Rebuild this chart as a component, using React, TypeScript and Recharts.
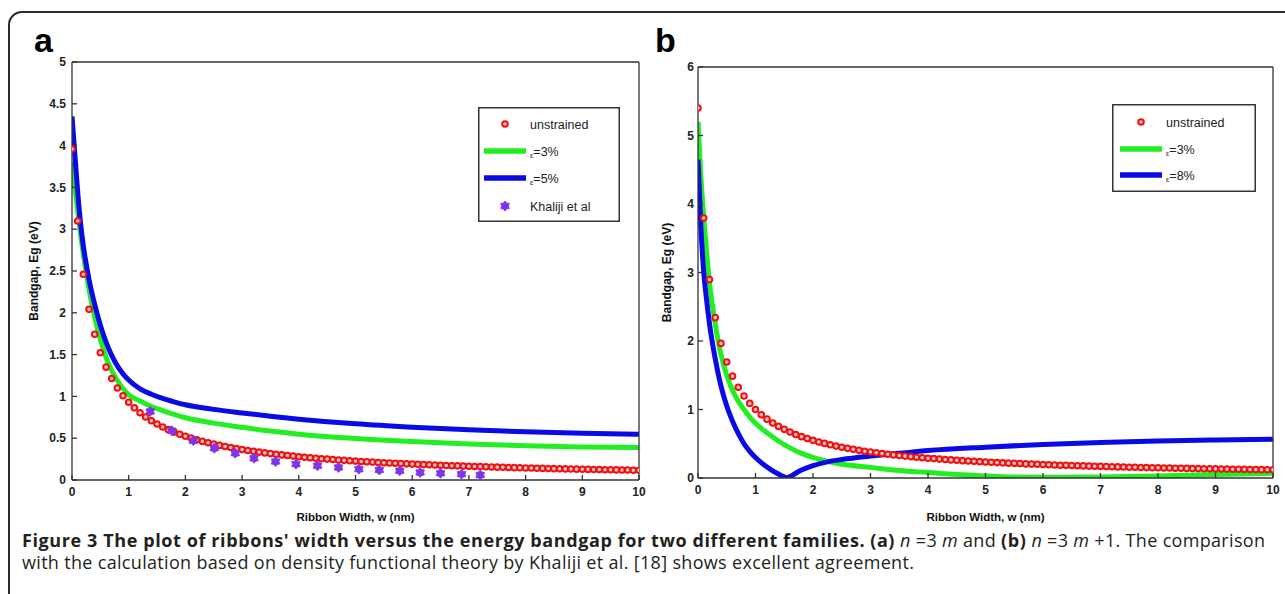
import React from 'react';
import { ComposedChart, Line, Scatter, XAxis, YAxis, Legend, Label } from 'recharts';

// ---------- shared ticks ----------
const X_TICKS = [0, 1, 2, 3, 4, 5, 6, 7, 8, 9, 10];
const Y_TICKS_A = [0, 0.5, 1, 1.5, 2, 2.5, 3, 3.5, 4, 4.5, 5];
const Y_TICKS_B = [0, 1, 2, 3, 4, 5, 6];

// ribbon widths (nm) at which the unstrained points are plotted
const W_GRID = [
  0, 0.1, 0.2, 0.3, 0.4, 0.5, 0.6, 0.7, 0.8, 0.9,
  1, 1.1, 1.2, 1.3, 1.4, 1.5, 1.6, 1.7, 1.8, 1.9,
  2, 2.1, 2.2, 2.3, 2.4, 2.5, 2.6, 2.7, 2.8, 2.9,
  3, 3.1, 3.2, 3.3, 3.4, 3.5, 3.6, 3.7, 3.8, 3.9,
  4, 4.1, 4.2, 4.3, 4.4, 4.5, 4.6, 4.7, 4.8, 4.9,
  5, 5.1, 5.2, 5.3, 5.4, 5.5, 5.6, 5.7, 5.8, 5.9,
  6, 6.1, 6.2, 6.3, 6.4, 6.5, 6.6, 6.7, 6.8, 6.9,
  7, 7.1, 7.2, 7.3, 7.4, 7.5, 7.6, 7.7, 7.8, 7.9,
  8, 8.1, 8.2, 8.3, 8.4, 8.5, 8.6, 8.7, 8.8, 8.9,
  9, 9.1, 9.2, 9.3, 9.4, 9.5, 9.6, 9.7, 9.8, 9.9,
  10,
];

// ---------- panel a (n = 3m) ----------
const A_UNSTRAINED = [
  3.96, 3.098, 2.461, 2.041, 1.743, 1.522, 1.35, 1.213, 1.101, 1.008,
  0.93, 0.863, 0.805, 0.754, 0.709, 0.67, 0.634, 0.602, 0.573, 0.547,
  0.523, 0.501, 0.481, 0.462, 0.445, 0.429, 0.414, 0.401, 0.388, 0.375,
  0.364, 0.353, 0.343, 0.334, 0.324, 0.316, 0.308, 0.3, 0.293, 0.286,
  0.279, 0.273, 0.267, 0.261, 0.255, 0.25, 0.245, 0.24, 0.235, 0.231,
  0.226, 0.222, 0.218, 0.214, 0.21, 0.207, 0.203, 0.2, 0.197, 0.193,
  0.19, 0.187, 0.184, 0.182, 0.179, 0.176, 0.174, 0.171, 0.169, 0.166,
  0.164, 0.162, 0.16, 0.158, 0.156, 0.154, 0.152, 0.15, 0.148, 0.146,
  0.144, 0.143, 0.141, 0.139, 0.138, 0.136, 0.135, 0.133, 0.132, 0.13,
  0.129, 0.127, 0.126, 0.125, 0.123, 0.122, 0.121, 0.12, 0.119, 0.117,
  0.116,
];

const A_CURVE_W = [0, 0.05, 0.1, 0.15, 0.2, 0.3, 0.4, 0.5, 0.6, 0.7, 0.8, 0.9, 1.0, 1.2, 1.4, 1.6, 1.8, 2.0, 2.5, 3, 3.5, 4, 5, 6, 7, 8, 9, 10];
const A_STRAIN3 = [3.8, 3.5, 3.22, 2.95, 2.7, 2.28, 1.95, 1.68, 1.47, 1.31, 1.19, 1.095, 1.02, 0.945, 0.88, 0.83, 0.785, 0.745, 0.68, 0.63, 0.585, 0.548, 0.497, 0.46, 0.432, 0.41, 0.396, 0.387];
const A_STRAIN5 = [4.35, 3.9, 3.45, 3.08, 2.8, 2.4, 2.1, 1.85, 1.65, 1.49, 1.365, 1.27, 1.195, 1.09, 1.025, 0.975, 0.935, 0.9, 0.845, 0.802, 0.762, 0.728, 0.672, 0.632, 0.601, 0.577, 0.56, 0.547];

const KHALIJI_W = [1.38, 1.76, 2.14, 2.51, 2.88, 3.21, 3.59, 3.95, 4.33, 4.7, 5.06, 5.42, 5.78, 6.14, 6.5, 6.87, 7.2];
const KHALIJI_E = [0.82, 0.59, 0.47, 0.38, 0.32, 0.26, 0.22, 0.19, 0.17, 0.15, 0.13, 0.12, 0.11, 0.09, 0.08, 0.07, 0.06];

// ---------- panel b (n = 3m + 1) ----------
const B_UNSTRAINED = [
  5.4, 3.795, 2.896, 2.341, 1.965, 1.693, 1.487, 1.325, 1.196, 1.089,
  1.0, 0.924, 0.859, 0.803, 0.753, 0.71, 0.671, 0.636, 0.604, 0.576,
  0.55, 0.526, 0.505, 0.485, 0.466, 0.449, 0.433, 0.418, 0.404, 0.391,
  0.379, 0.368, 0.357, 0.347, 0.337, 0.328, 0.32, 0.312, 0.304, 0.296,
  0.289, 0.283, 0.276, 0.27, 0.264, 0.259, 0.253, 0.248, 0.243, 0.239,
  0.234, 0.23, 0.225, 0.221, 0.217, 0.214, 0.21, 0.206, 0.203, 0.2,
  0.196, 0.193, 0.19, 0.187, 0.185, 0.182, 0.179, 0.177, 0.174, 0.172,
  0.169, 0.167, 0.165, 0.162, 0.16, 0.158, 0.156, 0.154, 0.152, 0.15,
  0.149, 0.147, 0.145, 0.143, 0.142, 0.14, 0.139, 0.137, 0.135, 0.134,
  0.133, 0.131, 0.13, 0.128, 0.127, 0.126, 0.124, 0.123, 0.122, 0.121,
  0.12,
];

const B_STRAIN3_W = [0, 0.05, 0.1, 0.15, 0.2, 0.3, 0.4, 0.5, 0.6, 0.7, 0.8, 0.9, 1.0, 1.2, 1.4, 1.6, 1.8, 2.0, 2.5, 3, 3.5, 4, 4.5, 5, 5.5, 6, 7, 8, 9, 10];
const B_STRAIN3 = [5.2, 4.4, 3.8, 3.3, 2.85, 2.25, 1.8, 1.5, 1.28, 1.12, 1.0, 0.89, 0.8, 0.66, 0.54, 0.44, 0.36, 0.3, 0.2, 0.155, 0.11, 0.08, 0.05, 0.03, 0.015, 0.01, 0.015, 0.03, 0.05, 0.07];

const B_STRAIN8_W = [0, 0.05, 0.1, 0.15, 0.2, 0.3, 0.4, 0.5, 0.6, 0.7, 0.8, 0.9, 1.0, 1.1, 1.2, 1.3, 1.4, 1.5, 1.55, 1.6, 1.7, 1.8, 2.0, 2.25, 2.5, 3, 3.5, 4, 5, 6, 7, 8, 9, 10];
const B_STRAIN8 = [4.65, 3.67, 3.0, 2.6, 2.25, 1.74, 1.34, 1.05, 0.83, 0.65, 0.5, 0.39, 0.3, 0.225, 0.16, 0.105, 0.058, 0.018, 0.005, 0.02, 0.07, 0.115, 0.18, 0.235, 0.27, 0.32, 0.36, 0.4, 0.45, 0.49, 0.52, 0.54, 0.555, 0.565];

// ---------- helpers ----------
const pts = (ws: number[], es: number[]) => ws.map((w, i) => ({ w, e: es[i] }));

const RED = '#ee1111';
const GREEN = '#22ee22';
const BLUE = '#0a0ae6';
const PURPLE = '#8034e8';
const AXIS = '#333';
const NARROW = "'Liberation Sans Narrow', 'Arial Narrow', 'Liberation Sans', Arial, sans-serif";
const SANS = "'Liberation Sans', Arial, Helvetica, sans-serif";

const tickStyle = { fontSize: 12, fontWeight: 700, fontFamily: NARROW, fill: '#222' };

const RedCircle = (p: any) =>
  p.cx == null ? <g /> : <circle cx={p.cx} cy={p.cy} r={2.8} fill="#ffc4c4" stroke={RED} strokeWidth={2} />;

const hexagram = (cx: number, cy: number, ro: number, ri: number) => {
  const out: string[] = [];
  for (let k = 0; k < 12; k++) {
    const a = (Math.PI / 6) * k - Math.PI / 2;
    const r = k % 2 === 0 ? ro : ri;
    out.push(`${cx + r * Math.cos(a)},${cy + r * Math.sin(a)}`);
  }
  return out.join(' ');
};

const PurpleStar = (p: any) =>
  p.cx == null ? <g /> : <polygon points={hexagram(p.cx, p.cy, 5, 3.4)} fill={PURPLE} stroke={PURPLE} strokeWidth={0.8} />;

type LegendItem = { kind: string; color?: string; label: string; eps?: boolean; y: number };

const LegendBox = ({ w, h, rows, markX, lineX1, lineX2, textX }: any) => (
  <svg width={w} height={h} style={{ display: 'block' }}>
    <rect x={0.75} y={0.75} width={w - 1.5} height={h - 1.5} fill="#fff" stroke={AXIS} strokeWidth={1.5} />
    {rows.map((r: LegendItem, i: number) => (
      <g key={i}>
        {r.kind === 'circle' && <circle cx={markX} cy={r.y} r={2.8} fill="#ffc4c4" stroke={RED} strokeWidth={2} />}
        {r.kind === 'star' && <polygon points={hexagram(markX, r.y, 5, 3.4)} fill={PURPLE} stroke={PURPLE} strokeWidth={0.8} />}
        {r.kind === 'line' && <line x1={lineX1} x2={lineX2} y1={r.y} y2={r.y} stroke={r.color} strokeWidth={5.5} />}
        <text x={textX} y={r.y + 4.5} fontSize={12.5} fontFamily={SANS} fill="#222">
          {r.eps ? (
            <>
              <tspan fontSize={7.5} dy={2}>ε</tspan>
              <tspan dy={-2}>{r.label}</tspan>
            </>
          ) : (
            r.label
          )}
        </text>
      </g>
    ))}
  </svg>
);

const YLabel = (offX: number) => (props: any) => {
  const vb = props.viewBox || {};
  const x = (vb.x || 0) + offX;
  const y = (vb.y || 0) + (vb.height || 0) / 2;
  return (
    <text x={x} y={y} transform={`rotate(-90, ${x}, ${y})`} textAnchor="middle" dominantBaseline="central"
      fontSize={12} fontWeight={700} fontFamily={SANS} fill="#111">
      Bandgap, Eg (eV)
    </text>
  );
};

const XLabel = (offY: number) => (props: any) => {
  const vb = props.viewBox || {};
  const x = (vb.x || 0) + (vb.width || 0) / 2;
  const y = (vb.y || 0) + offY;
  return (
    <text x={x} y={y} textAnchor="middle" dominantBaseline="central" fontSize={11.5} fontWeight={700} fontFamily={SANS} fill="#111">
      Ribbon Width, w (nm)
    </text>
  );
};

type PanelProps = {
  width: number;
  height: number;
  margin: { top: number; right: number; bottom: number; left: number };
  yWidth: number;
  yMax: number;
  yTicks: number[];
  yTickMargin: number;
  yLabelX: number;
  xLabelY: number;
  children: React.ReactNode;
};

const Panel = ({ width, height, margin, yWidth, yMax, yTicks, yTickMargin, yLabelX, xLabelY, children }: PanelProps) => (
  <ComposedChart width={width} height={height} margin={margin}>
    <XAxis xAxisId={0} dataKey="w" type="number" domain={[0, 10]} ticks={X_TICKS} allowDataOverflow
      height={30} tickSize={-5} tickMargin={12} tick={tickStyle} stroke={AXIS} strokeWidth={1.3} interval={0}>
      <Label content={XLabel(xLabelY)} />
    </XAxis>
    <XAxis xAxisId="top" orientation="top" dataKey="w" type="number" domain={[0, 10]} ticks={X_TICKS} allowDataOverflow
      height={1} tickSize={-5} tick={false} stroke={AXIS} strokeWidth={1.3} interval={0} />
    <YAxis yAxisId={0} dataKey="e" type="number" domain={[0, yMax]} ticks={yTicks} allowDataOverflow
      width={yWidth} tickSize={-5} tickMargin={yTickMargin} tick={tickStyle} stroke={AXIS} strokeWidth={1.3} interval={0}>
      <Label content={YLabel(yLabelX)} />
    </YAxis>
    <YAxis yAxisId="right" orientation="right" dataKey="e" type="number" domain={[0, yMax]} ticks={yTicks} allowDataOverflow
      width={1} tickSize={-5} tick={false} stroke={AXIS} strokeWidth={1.3} interval={0} />
    {children}
  </ComposedChart>
);

export default function App() {
  const aRed = pts(W_GRID, A_UNSTRAINED);
  const aG = pts(A_CURVE_W, A_STRAIN3);
  const aB = pts(A_CURVE_W, A_STRAIN5);
  const aK = pts(KHALIJI_W, KHALIJI_E);
  const bRed = pts(W_GRID, B_UNSTRAINED);
  const bG = pts(B_STRAIN3_W, B_STRAIN3);
  const bB = pts(B_STRAIN8_W, B_STRAIN8);

  const legendA = [
    { kind: 'circle', label: 'unstrained', y: 17 },
    { kind: 'line', color: GREEN, label: '=3%', eps: true, y: 44 },
    { kind: 'line', color: BLUE, label: '=5%', eps: true, y: 71 },
    { kind: 'star', label: 'Khaliji et al', y: 99 },
  ];
  const legendB = [
    { kind: 'circle', label: 'unstrained', y: 18 },
    { kind: 'line', color: GREEN, label: '=3%', eps: true, y: 45 },
    { kind: 'line', color: BLUE, label: '=8%', eps: true, y: 71 },
  ];

  const bold = { fontWeight: 700, letterSpacing: 0.6 } as React.CSSProperties;

  return (
    <div style={{ position: 'relative', width: 1285, height: 594, overflow: 'hidden', background: '#fff' }}>
      <style>{'body{margin:0;overflow:hidden}'}</style>
      <div style={{ position: 'absolute', left: 8, top: 11, width: 1400, height: 700, border: '2px solid #2a2a2a', borderTopLeftRadius: 14, boxSizing: 'border-box' }} />
      <div style={{ position: 'absolute', left: 34, top: 23, fontFamily: SANS, fontWeight: 700, fontSize: 34, lineHeight: 1, color: '#000' }}>a</div>
      <div style={{ position: 'absolute', left: 655, top: 23, fontFamily: SANS, fontWeight: 700, fontSize: 34, lineHeight: 1, color: '#000' }}>b</div>

      <div style={{ position: 'absolute', left: 0, top: 0 }}>
        <Panel width={660} height={540} margin={{ top: 61, right: 20, bottom: 30, left: 0 }} yWidth={72} yMax={5}
          yTicks={Y_TICKS_A} yTickMargin={11} yLabelX={34} xLabelY={37}>
          <Scatter data={aRed} fill={RED} shape={RedCircle} isAnimationActive={false} />
          <Line data={aG} dataKey="e" type="monotone" stroke={GREEN} strokeWidth={5} dot={false} activeDot={false} isAnimationActive={false} />
          <Line data={aB} dataKey="e" type="monotone" stroke={BLUE} strokeWidth={5} dot={false} activeDot={false} isAnimationActive={false} />
          <Scatter data={aK} fill={PURPLE} shape={PurpleStar} isAnimationActive={false} />
          <Legend layout="vertical" align="center" verticalAlign="middle"
            wrapperStyle={{ left: 478, top: 107, width: 142, height: 115 }}
            content={() => <LegendBox w={142} h={115} rows={legendA} markX={27} lineX1={6} lineX2={48} textX={52} />} />
        </Panel>
      </div>

      <div style={{ position: 'absolute', left: 640, top: 0 }}>
        <Panel width={645} height={540} margin={{ top: 66, right: 11, bottom: 32, left: 0 }} yWidth={58} yMax={6}
          yTicks={Y_TICKS_B} yTickMargin={9} yLabelX={27} xLabelY={39}>
          <Scatter data={bRed} fill={RED} shape={RedCircle} isAnimationActive={false} />
          <Line data={bG} dataKey="e" type="monotone" stroke={GREEN} strokeWidth={5} dot={false} activeDot={false} isAnimationActive={false} />
          <Line data={bB} dataKey="e" type="monotone" stroke={BLUE} strokeWidth={5} dot={false} activeDot={false} isAnimationActive={false} />
          <Legend layout="vertical" align="center" verticalAlign="middle"
            wrapperStyle={{ left: 472, top: 104, width: 144, height: 88 }}
            content={() => <LegendBox w={144} h={88} rows={legendB} markX={29} lineX1={8} lineX2={50} textX={54} />} />
        </Panel>
      </div>

      <div style={{ position: 'absolute', left: 22, top: 529, width: 1270, fontFamily: "'Open Sans', 'Noto Sans', sans-serif", fontSize: 18, letterSpacing: 0.32, lineHeight: '22px', color: '#231f20', whiteSpace: 'nowrap' }}>
        <span style={bold}>Figure 3 The plot of ribbons' width versus the energy bandgap for two different families.</span> <span style={bold}>(a)</span> <i>n</i> =3 <i>m</i> and <span style={bold}>(b)</span> <i>n</i> =3 <i>m</i> +1. The comparison
        <br />
        with the calculation based on density functional theory by Khaliji et al. [18] shows excellent agreement.
      </div>
    </div>
  );
}
